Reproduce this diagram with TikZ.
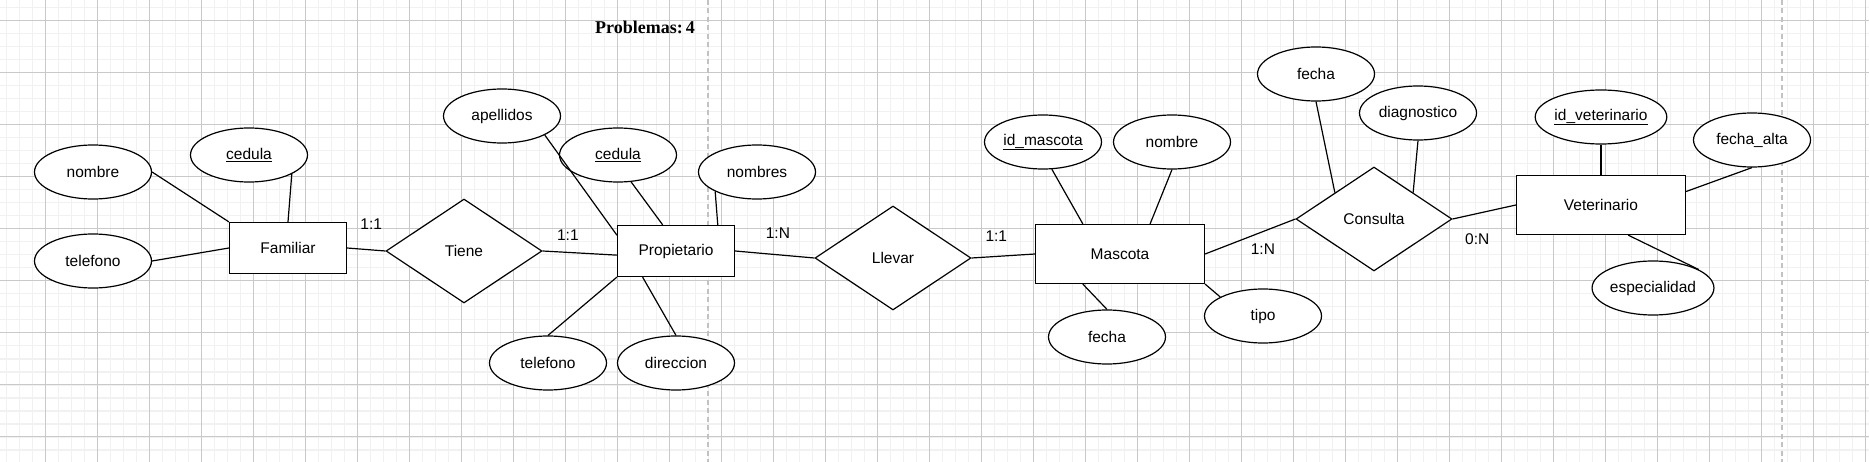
\documentclass[tikz,border=0pt]{standalone}
\usepackage{fontspec}
\setmainfont{Liberation Sans}
\newfontfamily\bannerfont{Liberation Serif}
\usetikzlibrary{positioning,shapes.geometric}
\definecolor{minorgrid}{HTML}{F1F1F1}
\definecolor{majorgrid}{HTML}{C9C9C9}
\definecolor{pagebreak}{HTML}{C2C2C2}

\begin{document}
\begin{tikzpicture}[
  label font/.style={font=\fontsize{15.5}{18}\selectfont},
  entity/.style={draw,rectangle,line width=1.2pt,fill=white,minimum width=117pt,minimum height=51pt,label font},
  bigentity/.style={entity,minimum width=169pt,minimum height=59pt},
  relation/.style={draw,diamond,line width=1.2pt,fill=white,minimum width=156pt,minimum height=104pt,inner sep=0pt,label font},
  attrib/.style={draw,ellipse,line width=1.2pt,fill=white,minimum width=117pt,minimum height=54pt,inner sep=0pt,label font},
  card/.style={inner sep=0pt,label font},
  link/.style={line width=1.2pt},
  on grid
]
  \useasboundingbox (0,0) rectangle (1869pt,-462pt);
  \fill[white] (0,0) rectangle (1869pt,-462pt);
  \begin{scope}
    \clip (0,0) rectangle (1869pt,-462pt);
    \begin{scope}[shift={(45.3pt,-20.7pt)}]
      \draw[minorgrid,line width=1.6pt,step=13pt] (-52pt,-455pt) grid (1872pt,26pt);
      \draw[majorgrid,line width=0.9pt,step=52pt] (-52pt,-468pt) grid (1872pt,52pt);
    \end{scope}
    \draw[pagebreak,line width=1.6pt,dash pattern=on 5pt off 3.5pt] (708pt,0) -- (708pt,-462pt);
    \draw[pagebreak,line width=1.6pt,dash pattern=on 5pt off 3.5pt] (1782pt,0) -- (1782pt,-462pt);
  \end{scope}

  \node[font=\bannerfont\bfseries\fontsize{18}{20}\selectfont] (banner) at (645pt,-27pt) {Problemas:\,4};

  \node[entity] (Fam) at (288pt,-248pt) {Familiar};
  \node[relation,below right=3pt and 176pt of Fam] (Tiene) {Tiene};
  \node[entity,right=212pt of Tiene] (Prop) {Propietario};
  \node[relation,below right=7pt and 217pt of Prop] (Llevar) {Llevar};
  \node[bigentity,above right=4pt and 227pt of Llevar] (Masc) {Mascota};
  \node[relation,above right=35pt and 254pt of Masc] (Cons) {Consulta};
  \node[bigentity,above right=14pt and 227pt of Cons] (Vet) {Veterinario};

  \node[attrib,above left=76pt and 195pt of Fam] (Fnom) {nombre};
  \node[attrib,above left=93pt and 39pt of Fam] (Fced) {\underline{cedula}};
  \node[attrib,below left=13pt and 195pt of Fam] (Ftel) {telefono};

  \node[attrib,above left=135pt and 174pt of Prop] (Pape) {apellidos};
  \node[attrib,above left=96pt and 58pt of Prop] (Pced) {\underline{cedula}};
  \node[attrib,above right=79pt and 81pt of Prop] (Pnom) {nombres};
  \node[attrib,below left=112pt and 128pt of Prop] (Ptel) {telefono};
  \node[attrib,below=112pt of Prop] (Pdir) {direccion};

  \node[attrib,above left=112pt and 77pt of Masc] (Mid) {\underline{id\_mascota}};
  \node[attrib,above right=112pt and 52pt of Masc] (Mnom) {nombre};
  \node[attrib,below left=83pt and 13pt of Masc] (Mfec) {fecha};
  \node[attrib,below right=62pt and 143pt of Masc] (Mtip) {tipo};

  \node[attrib,above left=145pt and 58pt of Cons] (Cfec) {fecha};
  \node[attrib,above right=106pt and 44pt of Cons] (Cdia) {diagnostico};

  \node[attrib,above=88pt of Vet] (Vid) {\underline{id\_veterinario}};
  \node[attrib,above right=65pt and 151pt of Vet] (Valt) {fecha\_alta};
  \node[attrib,below right=83pt and 52pt of Vet] (Vesp) {especialidad};

  \draw[link] (Fam.east) -- node[card,pos=.63,yshift=26pt] (kFT) {1:1} (Tiene.west);
  \draw[link] (Tiene.east) -- node[card,pos=.34,yshift=17pt] (kTP) {1:1} (Prop.184);
  \draw[link] (Prop.east) -- node[card,pos=.54,yshift=22pt] (kPL) {1:N} (Llevar.west);
  \draw[link] (Llevar.east) -- node[card,pos=.39,yshift=20pt] (kLM) {1:1} (Masc.west);
  \draw[link] (Masc.east) -- node[card,pos=.64,yshift=-18pt] (kMC) {1:N} (Cons.west);
  \draw[link] (Cons.east) -- node[card,pos=.39,yshift=-26pt] (kCV) {0:N} (Vet.west);

  \draw[link] (Fnom.east) -- (Fam.north west);
  \draw[link] (Fced.-24) -- (Fam.north);
  \draw[link] (Ftel.east) -- (Fam.west);

  \draw[link] (Pape.-24) -- (Prop.165);
  \draw[link] (Pced.-64) -- (Prop.117);
  \draw[link] (Pnom.205) -- (Prop.32);
  \draw[link] (Ptel.north) -- (Prop.south west);
  \draw[link] (Pdir.north) -- (Prop.218);

  \draw[link] (Mid.-72) -- (Masc.141);
  \draw[link] (Mnom.south) -- (Masc.45);
  \draw[link] (Mfec.north) -- (Masc.219);
  \draw[link] (Mtip.156) -- (Masc.south east);

  \draw[link] (Cfec.south) -- (Cons.146);
  \draw[link] (Cdia.south) -- (Cons.34);

  \draw[link] (Vid.south) -- (Vet.north);
  \draw[link] (Valt.south) -- (Vet.9);
  \draw[link] (Vesp.22) -- (Vet.-48);
\end{tikzpicture}
\end{document}
